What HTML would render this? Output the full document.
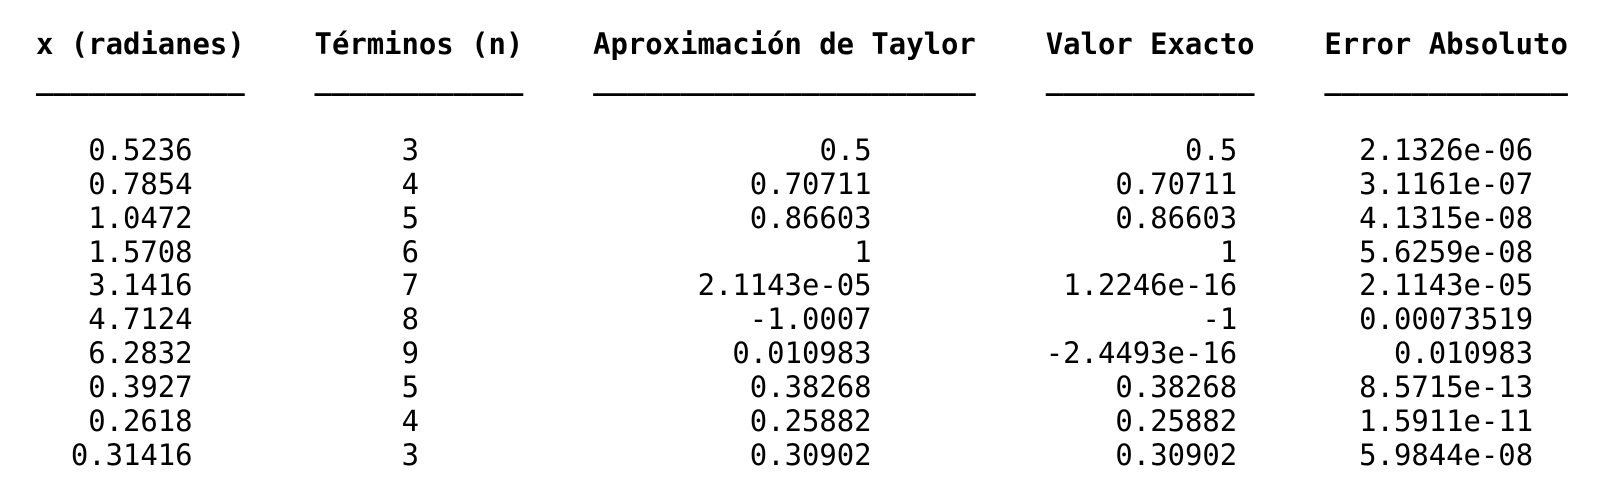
<!DOCTYPE html>
<html><head><meta charset="utf-8">
<style>
html,body{margin:0;padding:0;background:#fff;}
#wrap{position:relative;width:1600px;height:498px;overflow:hidden;background:#fff;
 font-family:"DejaVu Sans Mono","Liberation Mono",monospace;font-size:28.9px;color:#000;}
.c{position:absolute;height:34px;line-height:34px;white-space:pre;}
.h{font-weight:bold;}
</style></head>
<body>
<div id="wrap"></div>
<script>
const xVals=["0.5236","0.7854","1.0472","1.5708","3.1416","4.7124","6.2832","0.3927","0.2618","0.31416"];
const nVals=["3","4","5","6","7","8","9","5","4","3"];
const approxVals=["0.5","0.70711","0.86603","1","2.1143e-05","-1.0007","0.010983","0.38268","0.25882","0.30902"];
const exactVals=["0.5","0.70711","0.86603","1","1.2246e-16","-1","-2.4493e-16","0.38268","0.25882","0.30902"];
const errVals=["2.1326e-06","3.1161e-07","4.1315e-08","5.6259e-08","2.1143e-05","0.00073519","0.010983","8.5715e-13","1.5911e-11","5.9844e-08"];
const headers=["x (radianes)","Términos (n)","Aproximación de Taylor","Valor Exacto","Error Absoluto"];
const headerStart=[0,16,32,58,74];
const headerLen=[12,12,22,12,14];
const colEnd=[9,22,48,69,86];
const colNames=["x-cell","n-cell","approx-cell","exact-cell","error-cell"];
const cols=[xVals,nVals,approxVals,exactVals,errVals];
const CW=17.41, X0=36;
const wrap=document.getElementById('wrap');
function add(text,leftChar,top,cls,name){
  const d=document.createElement('div');
  d.className='c '+(cls||'');
  d.textContent=text;
  d.style.left=(X0+leftChar*CW)+'px';
  d.style.top=top+'px';
  
  
  wrap.appendChild(d);
}
headers.forEach((h,i)=>{
  add(h,headerStart[i],27,'h','column-header');
  add('_'.repeat(headerLen[i]),headerStart[i],62,'h','header-underline');
});
const rowH=33.87;
for(let r=0;r<xVals.length;r++){
  const top=133+r*rowH;
  cols.forEach((col,ci)=>{
    const t=col[r];
    add(t,colEnd[ci]-t.length,top,'',colNames[ci]);
  });
}
</script>
</body></html>
